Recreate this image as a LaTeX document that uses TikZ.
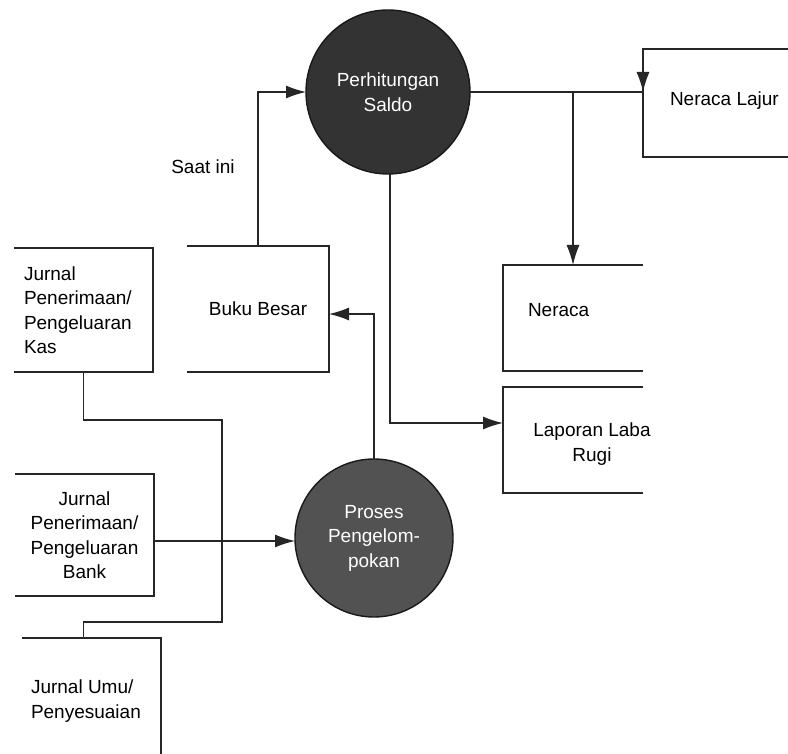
\documentclass[tikz,border=0pt]{standalone}
\usepackage{fontspec}
\setmainfont{Liberation Sans}
\usetikzlibrary{arrows.meta}
\begin{document}
\begin{tikzpicture}[x=1pt,y=-1pt,
  font=\fontsize{19}{24.5}\selectfont,
  boxnode/.style={inner sep=0pt, outer sep=0pt},
  boxline/.style={line width=1.8pt, draw=black!85},
  bubble/.style={circle, draw=black!90, line width=1.4pt, text=white, align=center, inner sep=0pt, outer sep=0pt},
  flow/.style={line width=1.3pt, draw=black!85},
  arr/.style={flow, -{Latex[length=20pt,width=13pt]}},
  lbl/.style={inner sep=0pt, outer sep=0pt}]
\useasboundingbox (0,0) rectangle (788,754);
\fill[white] (0,0) rectangle (788,754);
\coordinate (edgeR) at (788,0);
\coordinate (edgeB) at (0,754);

% boxes
\node[boxnode, minimum width=139pt, minimum height=124pt, text width=119pt, inner xsep=10pt, align=left] (kas) at (83.5,310) {Jurnal\\Penerimaan/\\Pengeluaran\\Kas};
\node[boxnode, minimum width=142pt, minimum height=126pt] (buku) at (258,309) {Buku Besar};
\node[boxnode, minimum width=139pt, minimum height=122pt, text width=139pt, align=center] (bank) at (84.5,535) {Jurnal\\Penerimaan/\\Pengeluaran\\Bank};
\node[boxnode, minimum width=139pt, minimum height=124pt] (umum) at (91.5,700) {};
\node[lbl, anchor=west, align=left] (umumtxt) at (31,701) {Jurnal Umu/\\Penyesuaian};
\node[boxnode, minimum width=150pt, minimum height=108pt] (nl) at (718,103) {};
\node[lbl, anchor=west] (nltxt) at (670,101) {Neraca Lajur};
\node[boxnode, minimum width=140pt, minimum height=106pt] (neraca) at (573,318) {};
\node[lbl, anchor=west] (neracatxt) at (528,310) {Neraca};
\node[boxnode, minimum width=140pt, minimum height=106pt] (laba) at (573,440) {};
\node[lbl, align=center] (labatxt) at (592,444) {Laporan Laba\\Rugi};

% processes
\node[bubble, fill=black!80, minimum size=164pt] (saldo) at (388,92) {Perhitungan\\Saldo};
\node[bubble, fill=black!68, minimum size=158pt] (proses) at (374,538) {Proses\\Pengelom-\\pokan};

\node[lbl] (saat) at (203,167) {Saat ini};

% box outlines (open sides)
\draw[boxline] (kas.north west) -- (kas.north east) -- (kas.south east) -- (kas.south west);
\draw[boxline] (buku.north west) -- (buku.north east) -- (buku.south east) -- (buku.south west);
\draw[boxline] (bank.north west) -- (bank.north east) -- (bank.south east) -- (bank.south west);
\draw[boxline] (umum.north west) -- (umum.north east) -- (umum.north east |- edgeB);
\draw[boxline] (nl.north west -| edgeR) -- (nl.north west) -- (nl.south west) -- (nl.south west -| edgeR);
\draw[boxline] (neraca.north east) -- (neraca.north west) -- (neraca.south west) -- (neraca.south east);
\draw[boxline] (laba.north east) -- (laba.north west) -- (laba.south west) -- (laba.south east);

% connectors
\coordinate (j1) at (222,420);
\coordinate (j2) at (222,622);
\coordinate (bankout) at ([yshift=-6pt]bank.east);
\coordinate (labain) at ([yshift=17pt]laba.west);
\coordinate (bukuin) at ([yshift=-5pt]buku.east);
\draw[arr] (buku.north) |- (saldo.west);
\draw[flow] (saldo.east) -- (saldo.east -| nl.west);
\draw[arr] (nl.north west) -- (saldo.east -| nl.west);
\draw[arr] (saldo.east -| neraca.north) -- (neraca.north);
\draw[arr] ([xshift=2pt]saldo.south) |- (labain);
\draw[arr] (proses.north) |- (bukuin);
\draw[arr] (bankout) -- (proses.west |- bankout);
\draw[flow] (kas.south) |- (j1) -- (j2) -| (kas.south |- umum.north);
\end{tikzpicture}
\end{document}
